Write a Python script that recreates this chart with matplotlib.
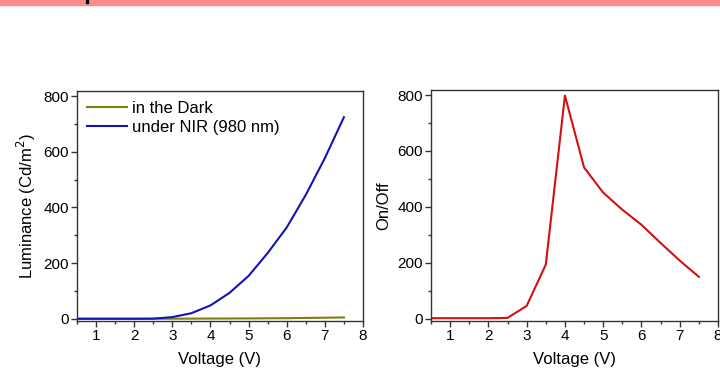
import matplotlib
matplotlib.use("Agg")
import matplotlib.pyplot as plt
from matplotlib.patches import Rectangle
from matplotlib.ticker import MultipleLocator

plt.rcParams['font.family'] = ['Liberation Sans', 'DejaVu Sans']

# data
voltage = [0.5, 1.0, 1.5, 2.0, 2.5, 3.0, 3.5, 4.0, 4.5, 5.0, 5.5, 6.0, 6.5, 7.0, 7.5]
lum_dark = [0, 0, 0, 0, 0, 0.3, 0.5, 0.8, 1.0, 1.3, 1.7, 2.2, 3.0, 3.8, 4.8]
lum_nir = [0, 0, 0, 0, 0.5, 6, 20, 48, 93, 154, 236, 328, 445, 577, 724]
on_off = [2, 2, 2, 2, 3, 46, 194, 798, 541, 451, 390, 336, 271, 208, 150]

c_dark = '#7f7f10'
c_nir = '#1414b4'
c_red = '#d41010'

fig = plt.figure(figsize=(7.2, 3.69), dpi=100)

# slide header strip at the top
fig.patches.append(Rectangle((0, 1 - 5 / 369), 1, 5 / 369, transform=fig.transFigure,
                             color='#ff8c8c', zorder=0))
fig.patches.append(Rectangle((86 / 720, 1 - 3 / 369), 2 / 720, 3 / 369, transform=fig.transFigure,
                             color='black', zorder=1))


def style_axes(ax):
    ax.set_xlim(0.5, 8)
    ax.set_ylim(-8, 818)
    ax.set_xticks(range(1, 9))
    ax.xaxis.set_minor_locator(MultipleLocator(0.5))
    ax.yaxis.set_major_locator(MultipleLocator(200))
    ax.yaxis.set_minor_locator(MultipleLocator(100))
    ax.tick_params(which='both', direction='out', top=False, right=False,
                   color='#333333', labelsize=11, pad=2)
    ax.tick_params(which='major', length=4, width=1)
    ax.tick_params(which='minor', length=2.5, width=1)
    for s in ax.spines.values():
        s.set_color('#333333')
        s.set_linewidth(1)
    ax.set_xlabel('Voltage (V)', fontsize=12, labelpad=6)


ax1 = fig.add_axes([77 / 720, 48 / 369, 286 / 720, 230 / 369])
ax1.plot(voltage, lum_dark, color=c_dark, lw=1.5, label='in the Dark')
ax1.plot(voltage, lum_nir, color=c_nir, lw=1.5, label='under NIR (980 nm)')
style_axes(ax1)
ax1.set_ylabel('Luminance (Cd/m$^2$)', fontsize=12, labelpad=4)
ax1.legend(loc='upper left', frameon=False, fontsize=12, handlelength=2.4,
           handletextpad=0.3, labelspacing=0.25, borderaxespad=0.2,
           bbox_to_anchor=(0.0, 1.0))

ax2 = fig.add_axes([431 / 720, 48 / 369, 287 / 720, 231 / 369])
ax2.plot(voltage, on_off, color=c_red, lw=1.5)
style_axes(ax2)
ax2.set_ylabel('On/Off', fontsize=12, labelpad=4)

fig.savefig('out.png', dpi=100)
